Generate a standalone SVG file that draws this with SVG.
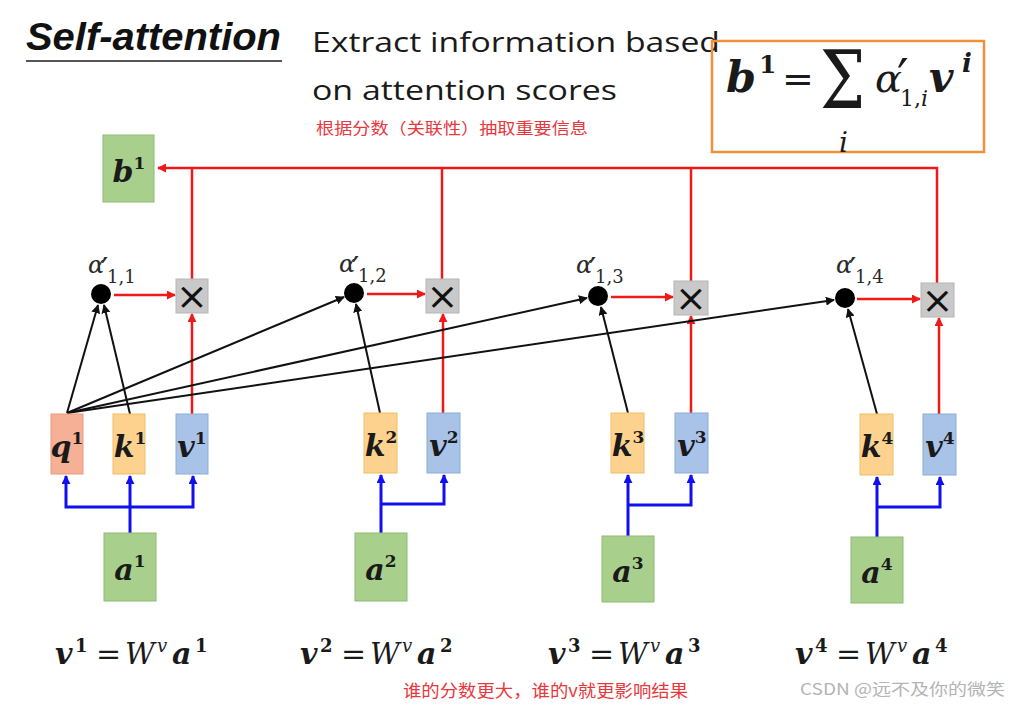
<svg xmlns="http://www.w3.org/2000/svg" width="1014" height="705" viewBox="0 0 1014 705">
<defs>
<marker id="ar" viewBox="0 0 10 10" refX="9" refY="5" markerWidth="9" markerHeight="9" markerUnits="userSpaceOnUse" orient="auto"><path d="M0,0 L10,5 L0,10 z" fill="#f01818"/></marker>
<marker id="ak" viewBox="0 0 10 10" refX="9" refY="5" markerWidth="9" markerHeight="9" markerUnits="userSpaceOnUse" orient="auto"><path d="M0,0 L10,5 L0,10 z" fill="#111"/></marker>
<marker id="ab" viewBox="0 0 10 10" refX="9" refY="5" markerWidth="9" markerHeight="9" markerUnits="userSpaceOnUse" orient="auto"><path d="M0,0 L10,5 L0,10 z" fill="#1010ee"/></marker>
</defs>
<style>
.q{fill:#f5b096;stroke:#e99a7c;stroke-width:1}
.k{fill:#fcd28e;stroke:#f1bd63;stroke-width:1}
.v{fill:#a9c3e8;stroke:#8bacd6;stroke-width:1}
.g{fill:#a8d08c;stroke:#8dbb72;stroke-width:1}
.x{fill:#c9c9c9;stroke:#b5b5b5;stroke-width:1}
.m{font-family:"DejaVu Serif","Liberation Serif",serif;fill:#1a1a1a}
.bi{font-weight:bold;font-style:italic}
.it{font-style:italic}
.bl{font-size:30px}
.sp{font-size:17px;font-weight:bold;font-style:normal}
.red{stroke:#f01818;stroke-width:2.5;fill:none}
.blk{stroke:#111;stroke-width:2;fill:none}
.blu{stroke:#1010ee;stroke-width:3;fill:none}
.cn{font-family:"Noto Sans CJK SC","Liberation Sans",sans-serif;fill:#e8383d}
.mul{font-family:"DejaVu Sans",sans-serif;font-size:38px;fill:#111;text-anchor:middle}
.al{font-family:"DejaVu Serif","Liberation Serif",serif;fill:#2a2a2a}
.pr{font-family:"DejaVu Sans",sans-serif;font-style:normal}
</style>
<rect width="1014" height="705" fill="#fff"/>

<g id="title">
<text x="26" y="50" font-family="Liberation Sans, Arial, sans-serif" font-size="38" font-weight="bold" font-style="italic" fill="#111" textLength="255" lengthAdjust="spacingAndGlyphs">Self-attention</text>
<line x1="26" y1="61" x2="282" y2="61" stroke="#555" stroke-width="2"/>
<text x="312" y="52" font-family="Open Sans, Liberation Sans, sans-serif" font-size="28" fill="#1a1a1a" textLength="408" lengthAdjust="spacingAndGlyphs">Extract information based</text>
<text x="312" y="100" font-family="Open Sans, Liberation Sans, sans-serif" font-size="28" fill="#1a1a1a" textLength="305" lengthAdjust="spacingAndGlyphs">on attention scores</text>
<text class="cn" x="316" y="134" font-size="16" textLength="272" lengthAdjust="spacingAndGlyphs">根据分数（关联性）抽取重要信息</text>
</g>

<g id="formula">
<rect x="712" y="41" width="272" height="111" fill="none" stroke="#f0913a" stroke-width="2.5"/>
<text class="m"><tspan class="bi" x="726" y="92" font-size="43">b</tspan><tspan x="759" y="73" font-size="25" font-weight="bold">1</tspan><tspan x="782" y="92" font-size="38">=</tspan></text>
<text class="m" transform="translate(820,108) scale(1,1.25)" font-size="64">Σ</text>
<text class="m it" x="839" y="152" font-size="28">i</text>
<text class="m"><tspan class="it" x="875" y="92" font-size="40">α</tspan><tspan class="pr" x="897" y="96" font-size="52">′</tspan><tspan x="900" y="106" font-size="22">1,</tspan><tspan class="it" font-size="22">i</tspan><tspan class="bi" x="929" y="92" font-size="42">v</tspan><tspan class="bi" x="962" y="72" font-size="26">i</tspan></text>
</g>

<g id="connectors">
<path class="red" d="M937,283 V168 H158" marker-end="url(#ar)"/>
<line class="red" x1="192" y1="279" x2="192" y2="168"/>
<line class="red" x1="442" y1="279" x2="442" y2="168"/>
<line class="red" x1="691" y1="281" x2="691" y2="168"/>
<path class="red" d="M114,295 H175" marker-end="url(#ar)"/>
<path class="red" d="M367,294 H425" marker-end="url(#ar)"/>
<path class="red" d="M611,297 H673" marker-end="url(#ar)"/>
<path class="red" d="M857,299 H920" marker-end="url(#ar)"/>
<path class="red" d="M192,414 V314" marker-end="url(#ar)"/>
<path class="red" d="M443,413 V314" marker-end="url(#ar)"/>
<path class="red" d="M691,413 V316" marker-end="url(#ar)"/>
<path class="red" d="M939,414 V318" marker-end="url(#ar)"/>
<path class="blk" d="M67,413 L98,305" marker-end="url(#ak)"/>
<path class="blk" d="M130,414 L104,305" marker-end="url(#ak)"/>
<path class="blk" d="M67,413 L344,297" marker-end="url(#ak)"/>
<path class="blk" d="M67,413 L587,298" marker-end="url(#ak)"/>
<path class="blk" d="M67,413 L834,300" marker-end="url(#ak)"/>
<path class="blk" d="M380,413 L356,304" marker-end="url(#ak)"/>
<path class="blk" d="M628,413 L601,307" marker-end="url(#ak)"/>
<path class="blk" d="M877,414 L848,309" marker-end="url(#ak)"/>
<path class="blu" d="M130,533 V476" marker-end="url(#ab)"/>
<path class="blu" d="M130,507 H66 V476" marker-end="url(#ab)"/>
<path class="blu" d="M130,507 H193 V476" marker-end="url(#ab)"/>
<path class="blu" d="M381,533 V475" marker-end="url(#ab)"/>
<path class="blu" d="M381,504 H444 V475" marker-end="url(#ab)"/>
<path class="blu" d="M628,536 V475" marker-end="url(#ab)"/>
<path class="blu" d="M628,505 H691 V475" marker-end="url(#ab)"/>
<path class="blu" d="M877,537 V477" marker-end="url(#ab)"/>
<path class="blu" d="M877,507 H940 V477" marker-end="url(#ab)"/>
</g>

<g id="b1"><rect class="g" x="103" y="135" width="51" height="67"/><text class="m" x="129" y="182" text-anchor="middle"><tspan class="bi bl">b</tspan><tspan class="sp" dy="-13">1</tspan></text></g>

<g id="alpha11"><circle cx="101" cy="294" r="10" fill="#000"/><text class="al"><tspan class="it" x="88" y="273" font-size="24">α</tspan><tspan class="pr" x="101" y="280" font-size="32">′</tspan><tspan x="107" y="283" font-size="18">1,1</tspan></text></g>
<g id="alpha12"><circle cx="354" cy="293" r="10" fill="#000"/><text class="al"><tspan class="it" x="339" y="272" font-size="24">α</tspan><tspan class="pr" x="352" y="279" font-size="32">′</tspan><tspan x="358" y="282" font-size="18">1,2</tspan></text></g>
<g id="alpha13"><circle cx="598" cy="296" r="10" fill="#000"/><text class="al"><tspan class="it" x="576" y="273" font-size="24">α</tspan><tspan class="pr" x="589" y="280" font-size="32">′</tspan><tspan x="595" y="283" font-size="18">1,3</tspan></text></g>
<g id="alpha14"><circle cx="845" cy="298" r="10" fill="#000"/><text class="al"><tspan class="it" x="836" y="273" font-size="24">α</tspan><tspan class="pr" x="849" y="280" font-size="32">′</tspan><tspan x="855" y="283" font-size="18">1,4</tspan></text></g>

<g id="mul1"><rect class="x" x="176" y="279" width="32" height="34"/><text class="mul" x="192" y="309">×</text></g>
<g id="mul2"><rect class="x" x="426" y="279" width="33" height="34"/><text class="mul" x="442.5" y="309">×</text></g>
<g id="mul3"><rect class="x" x="674" y="281" width="34" height="34"/><text class="mul" x="691" y="311">×</text></g>
<g id="mul4"><rect class="x" x="921" y="283" width="33" height="34"/><text class="mul" x="937.5" y="313">×</text></g>

<g id="q1"><rect class="q" x="51" y="414" width="32" height="60"/><text class="m" x="67" y="457" text-anchor="middle"><tspan class="bi bl">q</tspan><tspan class="sp" dy="-13">1</tspan></text></g>
<g id="k1"><rect class="k" x="113" y="414" width="32" height="60"/><text class="m" x="130" y="457" text-anchor="middle"><tspan class="bi bl">k</tspan><tspan class="sp" dy="-13">1</tspan></text></g>
<g id="v1"><rect class="v" x="176" y="414" width="32" height="60"/><text class="m" x="192" y="457" text-anchor="middle"><tspan class="bi bl">v</tspan><tspan class="sp" dy="-13">1</tspan></text></g>
<g id="a1"><rect class="g" x="104" y="533" width="52" height="68"/><text class="m" x="130" y="580" text-anchor="middle"><tspan class="bi bl">a</tspan><tspan class="sp" dy="-13">1</tspan></text></g>

<g id="k2"><rect class="k" x="364" y="413" width="33" height="60"/><text class="m" x="381" y="456" text-anchor="middle"><tspan class="bi bl">k</tspan><tspan class="sp" dy="-13">2</tspan></text></g>
<g id="v2"><rect class="v" x="427" y="413" width="33" height="60"/><text class="m" x="444" y="456" text-anchor="middle"><tspan class="bi bl">v</tspan><tspan class="sp" dy="-13">2</tspan></text></g>
<g id="a2"><rect class="g" x="355" y="533" width="52" height="68"/><text class="m" x="381" y="580" text-anchor="middle"><tspan class="bi bl">a</tspan><tspan class="sp" dy="-13">2</tspan></text></g>

<g id="k3"><rect class="k" x="611" y="413" width="33" height="60"/><text class="m" x="628" y="456" text-anchor="middle"><tspan class="bi bl">k</tspan><tspan class="sp" dy="-13">3</tspan></text></g>
<g id="v3"><rect class="v" x="675" y="413" width="33" height="60"/><text class="m" x="692" y="456" text-anchor="middle"><tspan class="bi bl">v</tspan><tspan class="sp" dy="-13">3</tspan></text></g>
<g id="a3"><rect class="g" x="602" y="536" width="52" height="66"/><text class="m" x="628" y="582" text-anchor="middle"><tspan class="bi bl">a</tspan><tspan class="sp" dy="-13">3</tspan></text></g>

<g id="k4"><rect class="k" x="860" y="414" width="33" height="61"/><text class="m" x="877" y="457" text-anchor="middle"><tspan class="bi bl">k</tspan><tspan class="sp" dy="-13">4</tspan></text></g>
<g id="v4"><rect class="v" x="923" y="414" width="33" height="61"/><text class="m" x="940" y="457" text-anchor="middle"><tspan class="bi bl">v</tspan><tspan class="sp" dy="-13">4</tspan></text></g>
<g id="a4"><rect class="g" x="851" y="537" width="52" height="66"/><text class="m" x="877" y="583" text-anchor="middle"><tspan class="bi bl">a</tspan><tspan class="sp" dy="-13">4</tspan></text></g>

<g id="equations" class="m">
<text y="664"><tspan class="bi" x="55" font-size="30">v</tspan><tspan x="75" y="652" font-size="18" font-weight="bold">1</tspan><tspan x="96" y="664" font-size="30">=</tspan><tspan class="it" x="125" font-size="29">W</tspan><tspan class="it" x="157" y="652" font-size="18">v</tspan><tspan class="bi" x="172" y="664" font-size="30">a</tspan><tspan x="195" y="652" font-size="18" font-weight="bold">1</tspan></text>
<text y="664"><tspan class="bi" x="300" font-size="30">v</tspan><tspan x="320" y="652" font-size="18" font-weight="bold">2</tspan><tspan x="341" y="664" font-size="30">=</tspan><tspan class="it" x="370" font-size="29">W</tspan><tspan class="it" x="402" y="652" font-size="18">v</tspan><tspan class="bi" x="417" y="664" font-size="30">a</tspan><tspan x="440" y="652" font-size="18" font-weight="bold">2</tspan></text>
<text y="664"><tspan class="bi" x="548" font-size="30">v</tspan><tspan x="568" y="652" font-size="18" font-weight="bold">3</tspan><tspan x="589" y="664" font-size="30">=</tspan><tspan class="it" x="618" font-size="29">W</tspan><tspan class="it" x="650" y="652" font-size="18">v</tspan><tspan class="bi" x="665" y="664" font-size="30">a</tspan><tspan x="688" y="652" font-size="18" font-weight="bold">3</tspan></text>
<text y="664"><tspan class="bi" x="795" font-size="30">v</tspan><tspan x="815" y="652" font-size="18" font-weight="bold">4</tspan><tspan x="836" y="664" font-size="30">=</tspan><tspan class="it" x="865" font-size="29">W</tspan><tspan class="it" x="897" y="652" font-size="18">v</tspan><tspan class="bi" x="912" y="664" font-size="30">a</tspan><tspan x="935" y="652" font-size="18" font-weight="bold">4</tspan></text>
</g>

<g id="notes">
<text class="cn" x="403" y="697" font-size="17" textLength="285" lengthAdjust="spacingAndGlyphs">谁的分数更大，谁的v就更影响结果</text>
<text x="800" y="695" font-family="Noto Sans CJK SC, Liberation Sans, sans-serif" font-size="16" fill="#b4b4b4" textLength="205" lengthAdjust="spacingAndGlyphs">CSDN @远不及你的微笑</text>
</g>
</svg>
